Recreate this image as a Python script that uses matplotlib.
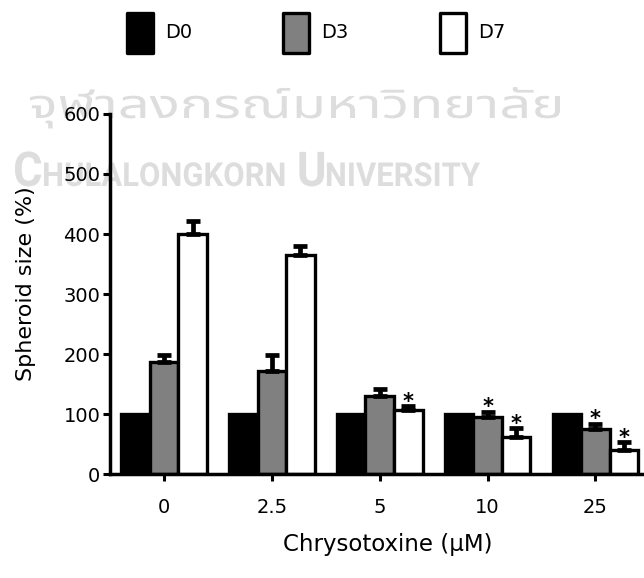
import matplotlib
matplotlib.use('Agg')
import matplotlib.pyplot as plt
from matplotlib.patches import Rectangle, PathPatch
from matplotlib.textpath import TextPath
from matplotlib.font_manager import FontProperties
from matplotlib.transforms import Affine2D
import numpy as np

plt.rcParams['font.family'] = ['DejaVu Sans']

# spheroid size (% of D0) after chrysotoxine treatment
conc = ['0', '2.5', '5', '10', '25']
days = ['D0', 'D3', 'D7']
d0 = [100, 100, 100, 100, 100]
d3 = [186, 172, 130, 95, 75]
d7 = [400, 365, 107, 62, 40]
d3_err = [13, 27, 12, 9, 9]
d7_err = [21, 15, 6, 14, 13]
d3_sig = [False, False, False, True, True]
d7_sig = [False, False, True, True, True]

means = [d0, d3, d7]
errs = [None, d3_err, d7_err]
sigs = [None, d3_sig, d7_sig]
colors = ['black', '#808080', 'white']

W, H = 644, 578
fig = plt.figure(figsize=(W / 100, H / 100), dpi=100)


def stamp(parts, x0, base, width, prop, color='#dddddd'):
    # lay text pieces side by side (in pixels), then squeeze to the given width
    paths, x = [], 0.0
    for s, size, gap in parts:
        tp = TextPath((0, 0), s, size=size, prop=prop)
        ext = tp.get_extents()
        paths.append((tp, x - ext.x0))
        x += ext.width + gap
    sx = width / (x - parts[-1][2])
    for tp, dx in paths:
        tr = Affine2D().translate(dx, 0).scale(sx, 1).translate(x0, base)
        fig.add_artist(PathPatch(tp, transform=tr, facecolor=color,
                                 edgecolor='none', zorder=-5))


# faint watermark behind the chart
thai = FontProperties(family=['Noto Sans Thai', 'Noto Sans', 'DejaVu Sans'], weight='bold')
stamp([('จุฬาลงกรณ์มหาวิทยาลัย', 40, 0)], 30, H - 118, 530, thai)
roboto = FontProperties(family='Roboto', weight='bold')
stamp([('C', 48, 3), ('HULALONGKORN', 33, 16), ('U', 48, 3), ('NIVERSITY', 33, 0)],
      15, H - 186, 465, roboto)

ax = fig.add_axes([110 / W, (H - 474) / H, 1 - 110 / W, 360 / H])
ax.set_facecolor('none')

x = np.arange(len(conc))
w = 0.265
for k in range(3):
    xs = x + (k - 1) * w
    ax.bar(xs, means[k], w, color=colors[k], edgecolor='black', linewidth=2.4, zorder=2)
    if errs[k] is not None:
        ax.errorbar(xs, means[k], yerr=[np.zeros(len(conc)), errs[k]], fmt='none',
                    ecolor='black', elinewidth=3.4, capsize=5, capthick=3.4, zorder=3)
        for xi, m, e, s in zip(xs, means[k], errs[k], sigs[k]):
            if s:
                ax.text(xi, m + e - 3, '*', ha='center', va='baseline', fontsize=15,
                        fontweight='bold', zorder=4)

ax.set_xlim(-0.50, 4.45)
ax.set_ylim(0, 600)
ax.set_yticks(np.arange(0, 601, 100))
ax.set_xticks(x)
ax.set_xticklabels(conc)
for side in ['top', 'right']:
    ax.spines[side].set_visible(False)
for side in ['left', 'bottom']:
    ax.spines[side].set_linewidth(2.5)
ax.tick_params(axis='y', length=5, width=2.2, pad=2, labelsize=14)
ax.tick_params(axis='x', length=5, width=2.2, pad=12, labelsize=14)

ax.set_ylabel('Spheroid size (%)', fontsize=16)
ax.yaxis.set_label_coords(-0.139, 0.528)
ax.set_xlabel('Chrysotoxine (\u03bcM)', fontsize=16.5)
ax.xaxis.set_label_coords(0.52, -0.163)

# legend boxes across the top
leg_x = [127, 283, 440]
for k in range(3):
    fig.add_artist(Rectangle((leg_x[k] / W, (H - 53) / H), 26 / W, 40 / H,
                             transform=fig.transFigure, facecolor=colors[k],
                             edgecolor='black', linewidth=2.4, joinstyle='round'))
    fig.text((leg_x[k] + 38) / W, 1 - 33 / H, days[k], fontsize=14, va='center', ha='left')

fig.savefig('out.png', dpi=100)
